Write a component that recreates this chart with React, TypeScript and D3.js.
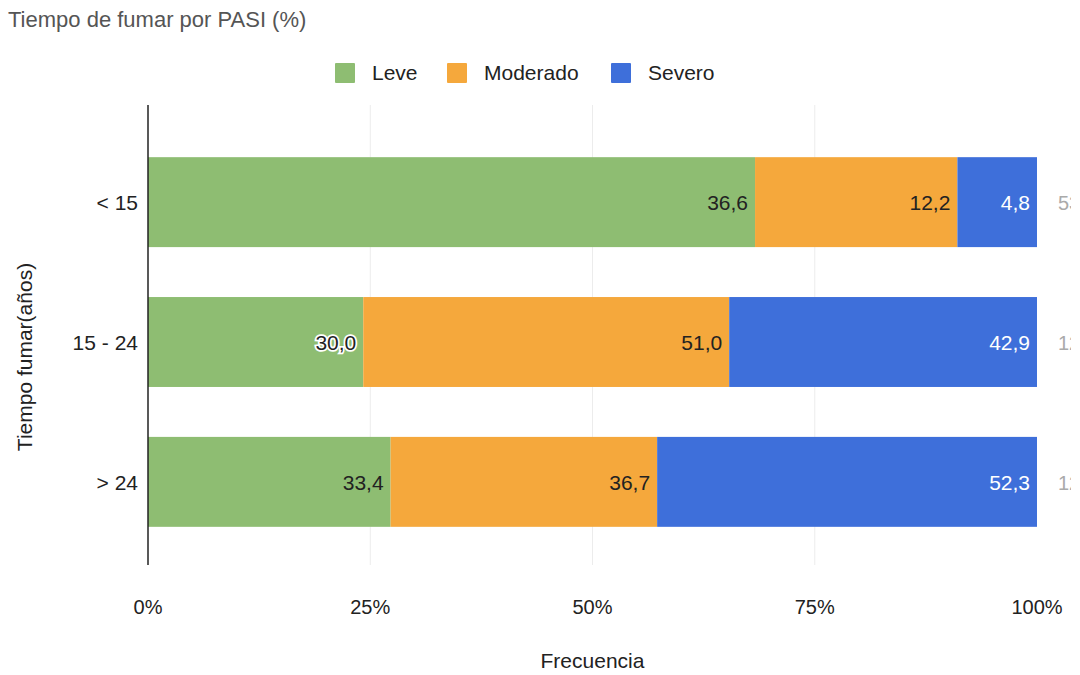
import React from 'react';
import * as d3 from 'd3';

const categories = ['< 15', '15 - 24', '> 24'];
const seriesNames = ['Leve', 'Moderado', 'Severo'];
const leve = [36.6, 30.0, 33.4];
const moderado = [12.2, 51.0, 36.7];
const severo = [4.8, 42.9, 52.3];
const xTicks = [0, 0.25, 0.5, 0.75, 1];

const colors = ['#8ebd72', '#f5a83c', '#3e6fda'];
const labelColors = ['#222', '#222', '#fff'];

const W = 1080;
const H = 675;
const margin = { left: 148, right: 43, top: 132, bottom: 123 };

const fmt = (v: number) => v.toFixed(1).replace('.', ',');

const App: React.FC = () => {
  const series = [leve, moderado, severo];
  const rows = categories.map((c, i) => {
    const vals = series.map(s => s[i]);
    const total = d3.sum(vals);
    let acc = 0;
    const segs = vals.map((v, k) => {
      const start = acc / total;
      acc += v;
      return { k, v, start, end: acc / total };
    });
    return { c, total, segs };
  });

  const x = d3.scaleLinear().domain([0, 1]).range([margin.left, W - margin.right]);
  const y = d3.scaleBand<string>()
    .domain(categories)
    .range([margin.top, H - margin.bottom])
    .paddingInner(0.357)
    .paddingOuter(0.18);

  const font = 'Arial, "Liberation Sans", sans-serif';

  // legend layout
  const legendItems = [
    { name: seriesNames[0], x: 335 },
    { name: seriesNames[1], x: 447 },
    { name: seriesNames[2], x: 611 },
  ];

  return (
    <svg width={W} height={H} style={{ position: 'absolute', left: 0, top: 0, background: '#fff' }} fontFamily={font}>
      <defs>
        {/* the source image is cropped on the right, the row totals only show partly */}
        <clipPath id="edge">
          <rect x={0} y={0} width={1071} height={H} />
        </clipPath>
      </defs>

      <text x={8} y={27} fontSize={22} fill="#555">Tiempo de fumar por PASI (%)</text>

      {/* Legend */}
      {legendItems.map((it, i) => (
        <g key={it.name}>
          <rect x={it.x} y={63} width={20} height={20} fill={colors[i]} rx={1} />
          <text x={it.x + 37} y={80} fontSize={21} fill="#222">{it.name}</text>
        </g>
      ))}

      {/* Grid */}
      {xTicks.slice(1, -1).map(t => (
        <line key={t} x1={x(t)} x2={x(t)} y1={105} y2={565} stroke="#ececec" strokeWidth={1} />
      ))}

      {/* Bars */}
      {rows.map(r => (
        <g key={r.c}>
          {r.segs.map(s => (
            <rect
              key={s.k}
              x={x(s.start)}
              y={y(r.c)}
              width={x(s.end) - x(s.start)}
              height={y.bandwidth()}
              fill={colors[s.k]}
            />
          ))}
          {r.segs.map(s => {
            const halo = s.k === 0 && (x(s.end) - x(s.start)) < 230;
            return (
              <text
                key={'l' + s.k}
                x={x(s.end) - 7}
                y={(y(r.c) || 0) + y.bandwidth() / 2 + 8}
                textAnchor="end"
                fontSize={21}
                fill={labelColors[s.k]}
                stroke={halo ? '#fff' : 'none'}
                strokeWidth={halo ? 3.5 : 0}
                paintOrder="stroke"
              >
                {fmt(s.v)}
              </text>
            );
          })}
          <text
            x={x(1) + 21}
            y={(y(r.c) || 0) + y.bandwidth() / 2 + 8}
            fontSize={20}
            fill="#aaa"
            clipPath="url(#edge)"
          >
            {fmt(r.total)}
          </text>
        </g>
      ))}

      {/* Y axis */}
      <line x1={margin.left} x2={margin.left} y1={105} y2={565} stroke="#222" strokeWidth={1.5} />
      {categories.map(c => (
        <text
          key={c}
          x={margin.left - 10}
          y={(y(c) || 0) + y.bandwidth() / 2 + 8}
          textAnchor="end"
          fontSize={21}
          fill="#222"
        >
          {c}
        </text>
      ))}
      <text
        transform={`translate(32, 357) rotate(-90)`}
        textAnchor="middle"
        fontSize={21}
        fill="#222"
      >
        Tiempo fumar(años)
      </text>

      {/* X axis */}
      {xTicks.map(t => (
        <text key={t} x={x(t)} y={614} textAnchor="middle" fontSize={20} fill="#222">
          {d3.format('.0%')(t)}
        </text>
      ))}
      <text x={x(0.5)} y={668} textAnchor="middle" fontSize={21} fill="#222">Frecuencia</text>
    </svg>
  );
};

export default App;
